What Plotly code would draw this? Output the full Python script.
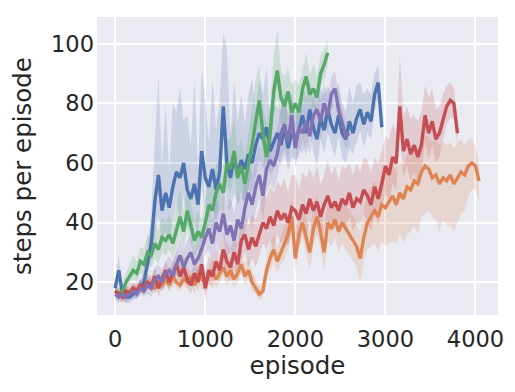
import plotly.graph_objects as go

STEP = 40  # episodes between recorded points

# ---- series means (steps per episode), one value every 40 episodes ----
blue_mean = [18,24,16,15,15,16,17,18,20,27,
             33,47,56,44,50,45,52,57,55,60,
             51,48,53,46,64,55,52,58,51,57,
             79,60,55,62,56,61,58,63,60,66,
             70,68,72,64,67,70,66,72,65,70,
             68,71,76,70,78,72,68,75,71,78,
             73,70,76,70,68,74,70,75,78,73,
             77,74,83,87,72]
blue_hi = [3,5,2,2,2,2,3,3,4,6,10,
           20,33,15,30,12,28,20,30,14,25,18,35,12,28,26,15,30,20,24,25,38,14,25,18,22,15,20,28,12,18,15,20,
           10,12,9,11,13,10,12,9,10,11,12,10,9,11,10,12,8,10,9,11,10,9,12,10,11,9,10,8,9,7,6,5]
blue_lo = [2,3,2,2,2,2,2,2,3,4,6,
           12,14,10,13,11,12,10,14,11,12,10,13,12,11,14,10,12,11,13,10,15,11,12,10,13,11,12,10,11,9,10,11,
           8,9,8,7,9,8,8,7,9,8,8,7,8,9,7,8,8,7,8,7,8,8,9,7,8,7,8,7,6,6,5,4]

green_mean = [17,16,17,20,22,24,23,27,26,30,
              29,33,31,35,34,36,33,38,42,37,
              44,39,34,37,35,40,46,44,50,53,
              50,60,58,64,55,59,53,60,66,74,
              81,70,62,70,84,91,82,79,84,77,
              80,77,85,89,83,85,82,90,93,97]
green_hi = [2,2,3,3,4,5,4,5,5,6,
            5,6,6,7,6,7,6,8,9,7,
            8,7,6,7,6,8,9,8,9,10,
            9,8,10,11,9,10,9,10,12,14,
            12,9,11,10,12,14,9,10,8,9,
            8,9,7,8,7,8,7,6,5,4]
green_lo = [2,2,2,3,3,3,3,4,4,4,
            4,5,5,5,5,5,5,6,6,6,
            6,6,6,6,6,6,7,7,7,7,
            7,7,8,8,8,8,8,8,8,9,
            9,9,9,9,9,9,8,8,8,8,
            7,7,7,7,6,6,6,5,5,4]

purple_mean = [16,15,16,15,16,17,16,18,17,19,
               18,21,22,20,23,24,22,26,29,25,
               28,30,26,28,31,35,38,33,40,37,
               43,36,39,34,41,38,45,50,46,52,
               56,49,58,61,59,63,70,73,67,76,
               65,72,70,74,69,76,78,74,80,76,
               83,85,78,73,69,70]
purple_hi = [2,2,2,2,2,2,2,3,3,3,
             3,4,4,4,4,5,5,5,6,6,
             6,6,6,7,7,7,8,8,8,8,
             8,9,9,9,9,9,10,10,10,10,
             10,10,9,9,9,9,9,9,8,8,
             8,8,8,8,7,7,7,7,7,6,
             6,6,6,5,5,4]
purple_lo = [2,2,2,2,2,2,2,2,2,3,
             3,3,3,3,4,4,4,4,5,5,
             5,5,5,6,6,6,7,7,7,7,
             7,8,8,8,8,8,8,8,8,8,
             8,8,8,8,8,8,8,8,7,7,
             7,7,7,7,6,6,6,6,6,6,
             5,5,5,5,4,4]

red_mean = [17,16,15,17,16,18,17,19,18,20,
            19,22,18,21,24,20,23,26,22,25,
            21,19,23,20,26,18,24,22,27,24,
            31,27,25,30,26,34,36,31,35,32,
            36,40,38,42,39,44,41,43,40,45,
            44,41,46,43,48,44,47,42,46,49,
            45,47,44,48,46,50,45,48,47,51,
            49,46,52,48,53,59,56,62,60,79,
            64,68,63,66,62,66,76,70,74,68,
            70,75,79,81,80,70]
red_hi = [2,2,2,2,2,2,2,2,3,3,
          3,3,3,3,3,4,4,4,4,4,
          4,4,4,4,5,5,5,5,5,5,
          6,6,6,6,7,7,8,8,8,9,
          9,10,10,10,11,10,11,12,10,11,
          12,10,11,12,10,11,12,11,10,12,
          11,12,10,11,12,10,11,12,10,11,
          12,11,10,12,11,10,12,11,10,17,
          12,11,12,10,12,11,10,12,11,10,
          9,8,7,6,5,4]
red_lo = [2,2,2,2,2,2,2,2,2,2,
          2,2,3,3,3,3,3,3,3,3,
          3,3,3,3,4,4,4,4,4,4,
          5,5,5,5,6,6,6,6,7,7,
          7,7,7,8,8,8,8,8,8,8,
          8,8,8,8,8,8,8,8,8,8,
          8,8,8,8,8,8,8,8,8,8,
          9,9,9,9,9,9,9,9,9,10,
          9,9,9,9,9,9,9,9,8,8,
          8,7,6,6,5,4]

orange_mean = [17,16,17,16,17,18,17,19,18,20,
               19,18,20,19,21,19,22,20,19,21,
               20,22,19,23,21,20,22,24,21,23,
               25,22,24,21,23,26,22,24,20,18,
               16,17,24,28,31,27,30,33,36,42,
               28,36,40,35,30,38,42,37,30,40,
               38,41,37,40,38,36,34,32,28,35,
               40,42,44,42,46,45,47,49,46,50,
               48,52,51,54,53,57,59,58,55,56,
               53,55,54,56,53,55,57,56,59,60,
               59,54]
orange_hi = [2,2,2,2,2,2,2,2,2,2,
             2,2,2,2,3,3,3,3,3,3,
             3,3,3,3,3,3,3,4,4,4,
             4,4,4,4,4,4,4,4,4,3,
             3,3,4,5,5,5,5,6,6,6,
             6,6,6,7,7,7,7,7,7,7,
             7,7,8,8,8,8,8,8,9,9,
             10,10,10,10,11,11,11,11,11,11,
             11,11,12,11,12,11,10,11,12,12,
             13,12,12,11,12,12,11,10,9,8,
             7,6]
orange_lo = [2,2,2,2,2,2,2,2,2,2,
             2,2,2,2,2,2,2,2,2,2,
             2,2,3,3,3,3,3,3,3,3,
             3,3,3,3,3,3,3,3,3,2,
             2,2,3,4,4,4,4,5,5,5,
             5,5,5,5,6,6,6,6,6,6,
             6,6,7,7,7,7,7,7,8,8,
             9,10,11,12,12,13,14,15,13,14,
             15,16,14,15,17,15,16,14,13,15,
             16,14,15,17,16,15,14,12,10,9,
             8,7]

x_ticks = [0, 1000, 2000, 3000, 4000]
y_ticks = [20, 40, 60, 80, 100]

series = [
    ("#4C72B0", "76,114,176", blue_mean, blue_hi, blue_lo),
    ("#DD8452", "221,132,82", orange_mean, orange_hi, orange_lo),
    ("#55A868", "85,168,104", green_mean, green_hi, green_lo),
    ("#C44E52", "196,78,82", red_mean, red_hi, red_lo),
    ("#8172B3", "129,114,179", purple_mean, purple_hi, purple_lo),
]

fig = go.Figure()

# confidence bands (drawn beneath all lines)
for col, rgb, mean, hi, lo in series:
    n = min(len(mean), len(hi), len(lo))
    ep = [i * STEP for i in range(n)]
    upper = [mean[i] + hi[i] for i in range(n)]
    lower = [mean[i] - lo[i] for i in range(n)]
    fig.add_trace(go.Scatter(
        x=ep + ep[::-1], y=upper + lower[::-1],
        fill="toself", fillcolor=f"rgba({rgb},0.2)",
        line=dict(width=0), mode="lines", hoverinfo="skip", showlegend=False))

for col, rgb, mean, hi, lo in series:
    ep = [i * STEP for i in range(len(mean))]
    fig.add_trace(go.Scatter(x=ep, y=mean, mode="lines",
                             line=dict(color=col, width=3.4), showlegend=False))

# the page body has an 8px default margin, so the figure is 8px smaller
fig.update_layout(
    width=507, height=384,
    margin=dict(l=89, r=17, t=9, b=77),
    paper_bgcolor="white", plot_bgcolor="#EAEAF2",
    font=dict(family="DejaVu Sans", color="#262626", size=22),
    showlegend=False,
)
fig.update_xaxes(range=[-202, 4250], tickvals=x_ticks, ticktext=[str(v) for v in x_ticks],
                 gridcolor="white", gridwidth=1.6, zeroline=False, showline=False, ticks="",
                 tickfont=dict(size=22.5), automargin=False, ticklabelstandoff=8,
                 title=dict(text="episode", font=dict(size=24.5), standoff=6))
fig.update_yaxes(range=[9, 109], tickvals=y_ticks, ticktext=[str(v) for v in y_ticks],
                 gridcolor="white", gridwidth=1.6, zeroline=False, showline=False, ticks="",
                 tickfont=dict(size=22.5), automargin=False, ticklabelstandoff=2,
                 title=dict(text="steps per episode", font=dict(size=24.5), standoff=15))

fig.write_html("out.html")
